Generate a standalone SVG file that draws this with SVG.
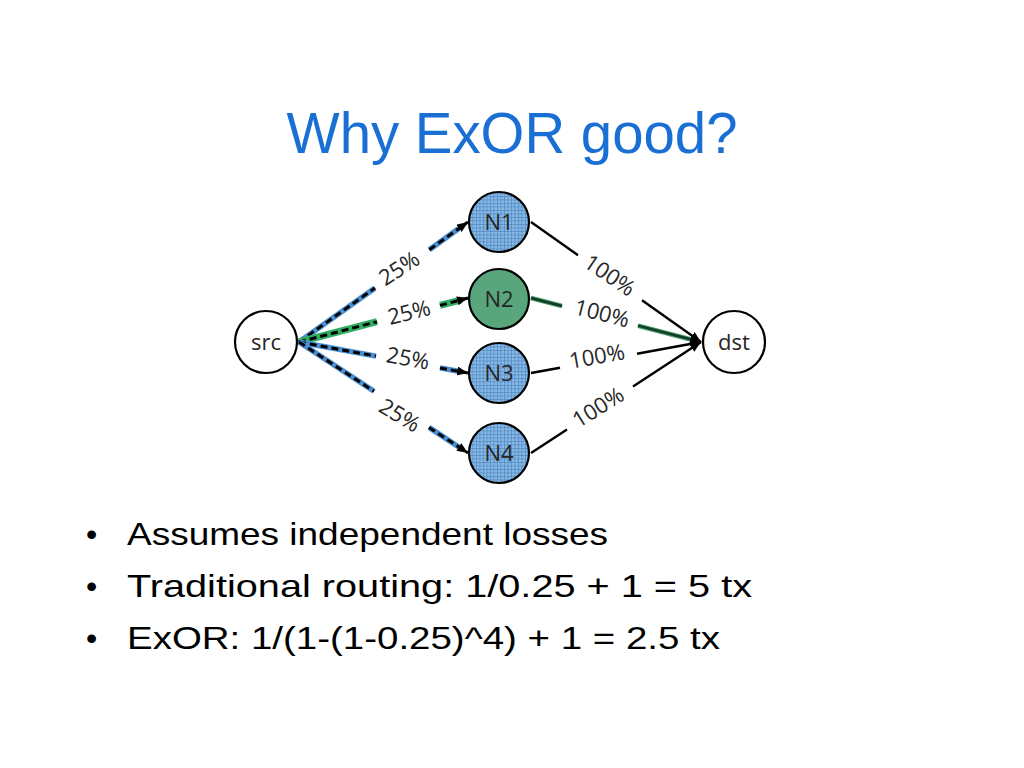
<svg xmlns="http://www.w3.org/2000/svg" width="1024" height="768" viewBox="0 0 1024 768">
<defs>
<pattern id="grid" width="3.5" height="3.5" patternUnits="userSpaceOnUse">
<rect width="3.5" height="3.5" fill="#86b8e4"/>
<path d="M0,0.3 H3.5 M0.3,0 V3.5" stroke="#4a80bc" stroke-width="0.7" fill="none"/>
</pattern>
<marker id="ah" markerUnits="userSpaceOnUse" markerWidth="11" markerHeight="9" refX="11" refY="4.5" orient="auto">
<path d="M0,0 L11,4.5 L0,9 z" fill="#000"/>
</marker>
<style>
.title{font-family:"Liberation Sans",sans-serif;font-size:58px;fill:#1a6fd4}
.bul{font-family:"Liberation Sans",sans-serif;font-size:32px;fill:#000}
.lbl{font-family:"Open Sans","Noto Sans",sans-serif;font-size:22px;fill:#262626;text-anchor:middle}
.nl{font-family:"Open Sans","Noto Sans",sans-serif;font-size:22px;fill:#262626;text-anchor:middle}
.ub{stroke:#4a8fd2;stroke-width:5.5;fill:none}
.ug{stroke:#2fae62;stroke-width:7;fill:none}
.dash{stroke:#000;stroke-width:3;stroke-dasharray:7 4;fill:none}
.solid{stroke:#000;stroke-width:2.4;fill:none}
.circ{stroke:#000;stroke-width:2.2}
</style>
</defs>
<rect width="1024" height="768" fill="#fff"/>
<text class="title" x="512" y="153" text-anchor="middle" textLength="451" lengthAdjust="spacingAndGlyphs">Why ExOR good?</text>

<g id="connectors">
<!-- src to N1 -->
<line class="ub" x1="299" y1="342" x2="375" y2="288"/>
<line class="dash" x1="299" y1="342" x2="375" y2="288"/>
<line class="ub" x1="429.3" y1="249.7" x2="462.3" y2="226.1"/>
<line class="dash" x1="429.3" y1="249.7" x2="468" y2="222" marker-end="url(#ah)"/>
<!-- src to N2 -->
<line class="ug" x1="299" y1="342" x2="377" y2="321.7"/>
<line class="dash" x1="299" y1="342" x2="377" y2="321.7"/>
<line class="ug" x1="440" y1="305.4" x2="461.2" y2="299.8"/>
<line class="dash" x1="440" y1="305.4" x2="468" y2="298" marker-end="url(#ah)"/>
<!-- src to N3 -->
<line class="ub" x1="299" y1="342" x2="376" y2="356.1"/>
<line class="dash" x1="299" y1="342" x2="376" y2="356.1"/>
<line class="ub" x1="440" y1="367.9" x2="461.1" y2="371.7"/>
<line class="dash" x1="440" y1="367.9" x2="468" y2="373" marker-end="url(#ah)"/>
<!-- src to N4 -->
<line class="ub" x1="299" y1="342" x2="374" y2="391.3"/>
<line class="dash" x1="299" y1="342" x2="374" y2="391.3"/>
<line class="ub" x1="429" y1="427.4" x2="462.1" y2="449.2"/>
<line class="dash" x1="429" y1="427.4" x2="468" y2="453" marker-end="url(#ah)"/>
<!-- N1 to dst -->
<line class="solid" x1="531" y1="222" x2="578" y2="255.2"/>
<line class="solid" x1="642" y1="300.3" x2="701" y2="342" marker-end="url(#ah)"/>
<!-- N2 to dst -->
<line stroke="#3c9a64" stroke-width="4.5" x1="531" y1="298" x2="562" y2="306"/>
<line stroke="#163a24" stroke-width="2.4" x1="531" y1="298" x2="562" y2="306"/>
<line stroke="#3c9a64" stroke-width="4.5" x1="638" y1="325.7" x2="692" y2="339.7"/>
<line stroke="#163a24" stroke-width="2.4" x1="638" y1="325.7" x2="701" y2="342" marker-end="url(#ah)"/>
<!-- N3 to dst -->
<line class="solid" x1="531" y1="373" x2="560" y2="367.7"/>
<line class="solid" x1="637" y1="353.7" x2="701" y2="342" marker-end="url(#ah)"/>
<!-- N4 to dst -->
<line class="solid" x1="531" y1="453" x2="567" y2="429.5"/>
<line class="solid" x1="633" y1="386.4" x2="701" y2="342" marker-end="url(#ah)"/>
<!-- labels -->
<text class="lbl" x="399" y="268" dy="8" transform="rotate(-33 399 268)">25%</text>
<text class="lbl" x="409" y="312" dy="8" transform="rotate(-14 409 312)">25%</text>
<text class="lbl" x="408" y="358" dy="8" transform="rotate(10 408 358)">25%</text>
<text class="lbl" x="400" y="415" dy="8" transform="rotate(31 400 415)">25%</text>
<text class="lbl" x="610" y="275" dy="8" transform="rotate(34 610 275)">100%</text>
<text class="lbl" x="602" y="313" dy="8" transform="rotate(14 602 313)">100%</text>
<text class="lbl" x="597" y="356" dy="8" transform="rotate(-10 597 356)">100%</text>
<text class="lbl" x="598" y="407" dy="8" transform="rotate(-32 598 407)">100%</text>
</g>

<g id="src">
<circle class="circ" cx="266" cy="342" r="31" fill="#fff"/>
<text class="nl" x="266" y="350">src</text>
</g>
<g id="dst">
<circle class="circ" cx="734" cy="342" r="31" fill="#fff"/>
<text class="nl" x="734" y="350">dst</text>
</g>
<g id="N1">
<circle class="circ" cx="499" cy="222" r="30" fill="url(#grid)"/>
<text class="nl" x="499" y="230">N1</text>
</g>
<g id="N2">
<circle class="circ" cx="499" cy="299" r="30" fill="#5aa67c"/>
<text class="nl" x="499" y="307">N2</text>
</g>
<g id="N3">
<circle class="circ" cx="499" cy="373" r="30" fill="url(#grid)"/>
<text class="nl" x="499" y="381">N3</text>
</g>
<g id="N4">
<circle class="circ" cx="499" cy="453" r="30" fill="url(#grid)"/>
<text class="nl" x="499" y="461">N4</text>
</g>

<g id="bullets">
<text class="bul" x="86" y="545">•</text>
<text class="bul" x="127" y="545" textLength="481" lengthAdjust="spacingAndGlyphs">Assumes independent losses</text>
<text class="bul" x="86" y="597">•</text>
<text class="bul" x="127" y="597" textLength="625" lengthAdjust="spacingAndGlyphs">Traditional routing: 1/0.25 + 1 = 5 tx</text>
<text class="bul" x="86" y="649">•</text>
<text class="bul" x="127" y="649" textLength="593" lengthAdjust="spacingAndGlyphs">ExOR: 1/(1-(1-0.25)^4) + 1 = 2.5 tx</text>
</g>
</svg>
